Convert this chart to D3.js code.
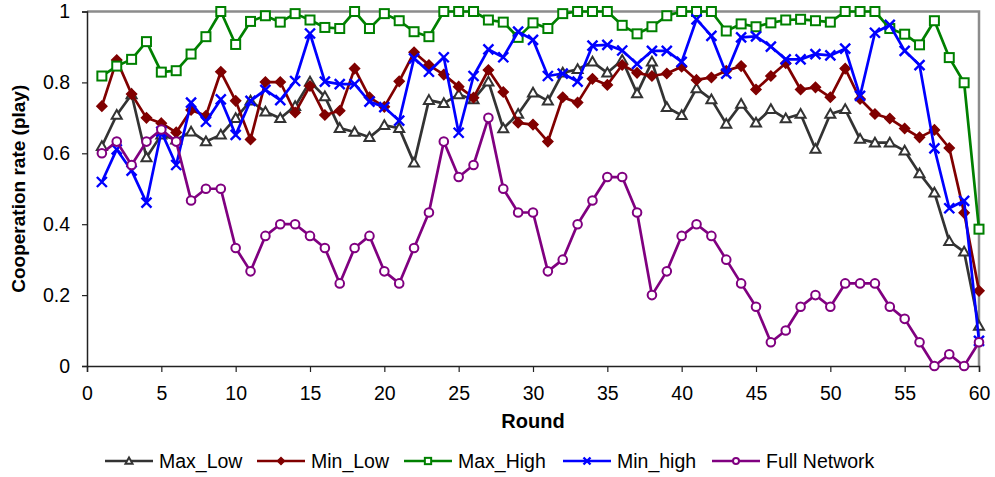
<!DOCTYPE html>
<html>
<head>
<meta charset="utf-8">
<script src="https://cdn.jsdelivr.net/npm/d3@7/dist/d3.min.js"></script>
<style>
  html, body { margin: 0; padding: 0; background: #fff; }
  svg { display: block; }
  text { font-family: "Liberation Sans", Arial, sans-serif; }
</style>
</head>
<body>
<svg id="chart" width="995" height="477"></svg>
<script>
const rounds = d3.range(1, 61);

const maxLow = [0.62,0.708,0.766,0.588,0.652,0.638,0.661,0.633,0.652,0.699,
  0.748,0.717,0.699,0.733,0.802,0.760,0.671,0.660,0.645,0.679,
  0.671,0.573,0.750,0.741,0.766,0.752,0.802,0.670,0.711,0.771,
  0.748,0.827,0.837,0.858,0.827,0.863,0.769,0.858,0.730,0.707,
  0.783,0.752,0.683,0.739,0.686,0.724,0.698,0.711,0.612,0.711,
  0.724,0.640,0.630,0.630,0.607,0.543,0.489,0.352,0.322,0.113];

const minLow = [0.733,0.863,0.767,0.700,0.685,0.659,0.722,0.706,0.830,0.748,
  0.639,0.801,0.801,0.715,0.790,0.708,0.720,0.839,0.758,0.731,
  0.803,0.885,0.849,0.822,0.788,0.757,0.835,0.773,0.686,0.681,
  0.633,0.758,0.743,0.810,0.793,0.849,0.827,0.818,0.825,0.844,
  0.807,0.814,0.833,0.846,0.780,0.818,0.854,0.780,0.786,0.758,
  0.839,0.753,0.711,0.698,0.670,0.645,0.666,0.615,0.432,0.212];

const maxHigh = [0.818,0.846,0.865,0.915,0.829,0.833,0.880,0.929,1.0,0.907,
  0.972,0.988,0.970,0.994,0.976,0.955,0.952,1.0,0.952,0.994,
  0.974,0.943,0.929,1.0,1.0,1.0,0.976,0.970,0.927,0.968,
  0.952,0.994,1.0,1.0,1.0,0.961,0.937,0.957,0.988,1.0,
  1.0,1.0,0.945,0.965,0.957,0.968,0.976,0.978,0.974,0.970,
  1.0,1.0,1.0,0.952,0.936,0.906,0.974,0.870,0.799,0.386];

const minHigh = [0.519,0.611,0.551,0.461,0.661,0.567,0.743,0.689,0.752,0.652,
  0.748,0.779,0.750,0.804,0.938,0.802,0.795,0.795,0.746,0.730,
  0.692,0.868,0.830,0.871,0.658,0.818,0.893,0.871,0.943,0.920,
  0.818,0.825,0.802,0.904,0.906,0.890,0.852,0.889,0.889,0.858,
  0.978,0.931,0.825,0.927,0.930,0.901,0.865,0.865,0.880,0.876,
  0.895,0.762,0.940,0.962,0.889,0.849,0.614,0.445,0.466,0.071];

const fullNetwork = [0.600,0.633,0.567,0.633,0.667,0.633,0.467,0.500,0.500,0.333,
  0.267,0.367,0.400,0.400,0.367,0.333,0.233,0.333,0.367,0.267,
  0.233,0.333,0.433,0.633,0.533,0.567,0.700,0.500,0.433,0.433,
  0.267,0.300,0.400,0.467,0.533,0.533,0.433,0.200,0.267,0.367,
  0.400,0.367,0.300,0.233,0.167,0.067,0.100,0.167,0.200,0.167,
  0.233,0.233,0.233,0.167,0.133,0.067,0.000,0.033,0.000,0.067];

const seriesNames = ["Max_Low", "Min_Low", "Max_High", "Min_high", "Full Network"];
const seriesValues = [maxLow, minLow, maxHigh, minHigh, fullNetwork];
const seriesColors = ["#333333", "#800000", "#008000", "#0000FF", "#800080"];
const seriesMarkers = ["triangle", "diamond", "square", "x", "circle"];

const xTicks = d3.range(0, 61, 5);
const yTicks = [0, 0.2, 0.4, 0.6, 0.8, 1];
const yTickLabels = ["0", "0.2", "0.4", "0.6", "0.8", "1"];

const svg = d3.select("#chart");
const pLeft = 87, pRight = 979, pTop = 11.5, pBottom = 366;

const x = d3.scaleLinear().domain([0, 60]).range([pLeft, pRight]);
const y = d3.scaleLinear().domain([0, 1]).range([pBottom, pTop]);

// plot border (gray top/right)
svg.append("path")
  .attr("d", `M${pLeft},${pTop}H${pRight}V${pBottom}`)
  .attr("fill", "none").attr("stroke", "#8c8c8c").attr("stroke-width", 2.5);

// axes
const xAxis = svg.append("g").attr("transform", `translate(0,${pBottom})`)
  .call(d3.axisBottom(x).tickValues(xTicks).tickSize(6).tickPadding(14).tickFormat(d3.format("d")));
const yAxis = svg.append("g").attr("transform", `translate(${pLeft},0)`)
  .call(d3.axisLeft(y).tickValues(yTicks).tickSize(5).tickPadding(12).tickFormat((d, i) => yTickLabels[i]));
[xAxis, yAxis].forEach(g => {
  g.select(".domain").attr("stroke", "#222").attr("stroke-width", 1.5);
  g.selectAll(".tick line").attr("stroke", "#222").attr("stroke-width", 1.2);
  g.selectAll(".tick text").attr("font-size", 19.5).attr("fill", "#000")
    .style("font-family", '"Liberation Sans", Arial, sans-serif');
});

// titles
svg.append("text").attr("x", (pLeft + pRight) / 2).attr("y", 428)
  .attr("text-anchor", "middle").attr("font-size", 20).attr("font-weight", "bold").text("Round");
svg.append("text").attr("transform", `translate(25,${(pTop + pBottom) / 2}) rotate(-90)`)
  .attr("text-anchor", "middle").attr("font-size", 19).attr("font-weight", "bold")
  .text("Cooperation rate (play)");

function drawMarker(g, type, color, cx, cy, scale) {
  const s = scale || 1;
  if (type === "triangle") {
    const h = 5 * s;
    g.append("path").attr("d", `M${cx},${cy - h}L${cx + h},${cy + h * 0.75}L${cx - h},${cy + h * 0.75}Z`)
      .attr("fill", "#fff").attr("stroke", color).attr("stroke-width", 2);
  } else if (type === "diamond") {
    const h = 5 * s;
    g.append("path").attr("d", `M${cx},${cy - h}L${cx + h},${cy}L${cx},${cy + h}L${cx - h},${cy}Z`)
      .attr("fill", color).attr("stroke", color).attr("stroke-width", 1.5);
  } else if (type === "square") {
    const h = 4.5 * s;
    g.append("rect").attr("x", cx - h).attr("y", cy - h).attr("width", 2 * h).attr("height", 2 * h)
      .attr("fill", "#fff").attr("stroke", color).attr("stroke-width", 2);
  } else if (type === "x") {
    const h = 5 * s;
    g.append("path").attr("d", `M${cx - h},${cy - h}L${cx + h},${cy + h}M${cx - h},${cy + h}L${cx + h},${cy - h}`)
      .attr("fill", "none").attr("stroke", color).attr("stroke-width", 2.4);
  } else {
    g.append("circle").attr("cx", cx).attr("cy", cy).attr("r", 4.3 * s)
      .attr("fill", "#fff").attr("stroke", color).attr("stroke-width", 2);
  }
}

const line = d3.line().x((d, i) => x(rounds[i])).y(d => y(d));

seriesValues.forEach((vals, si) => {
  const g = svg.append("g");
  g.append("path").datum(vals).attr("d", line)
    .attr("fill", "none").attr("stroke", seriesColors[si]).attr("stroke-width", 2.7)
    .attr("stroke-linejoin", "round");
  vals.forEach((v, i) => drawMarker(g, seriesMarkers[si], seriesColors[si], x(rounds[i]), y(v)));
});

// legend
const legendX = [105, 257, 404, 563, 712];
const legendY = 461;
seriesNames.forEach((name, si) => {
  const g = svg.append("g");
  const x0 = legendX[si];
  g.append("line").attr("x1", x0).attr("x2", x0 + 48).attr("y1", legendY).attr("y2", legendY)
    .attr("stroke", seriesColors[si]).attr("stroke-width", 2.7);
  drawMarker(g, seriesMarkers[si], seriesColors[si], x0 + 24, legendY, 0.7);
  g.append("text").attr("x", x0 + 54).attr("y", legendY + 7).attr("font-size", 19.5).text(name);
});
</script>
</body>
</html>
